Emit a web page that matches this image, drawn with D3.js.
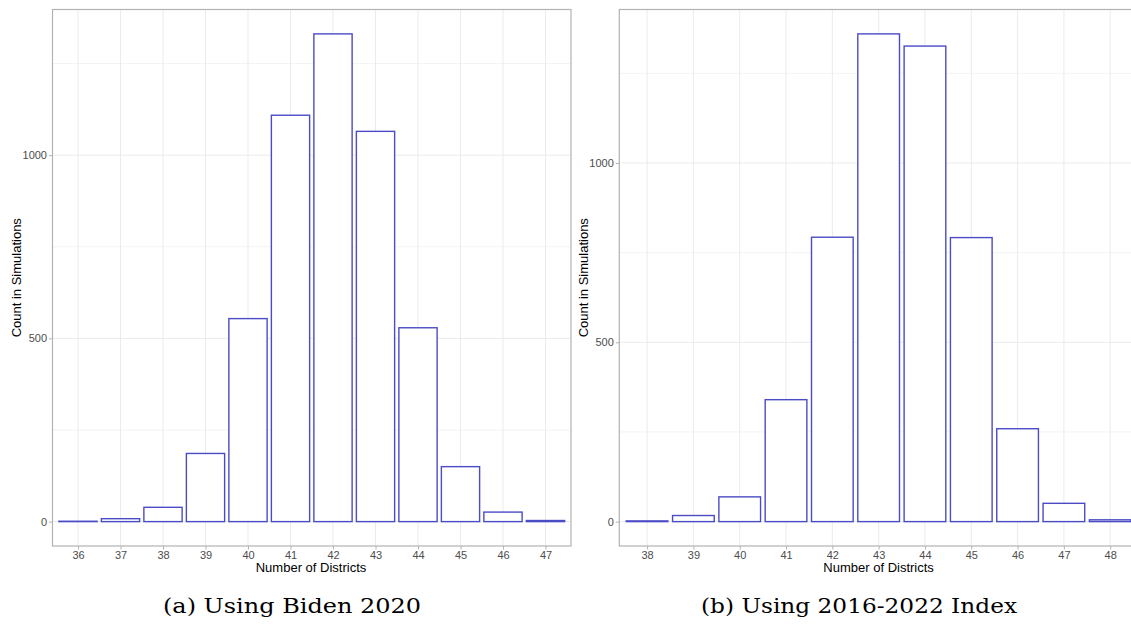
<!DOCTYPE html>
<html>
<head>
<meta charset="utf-8">
<script src="https://cdn.jsdelivr.net/npm/d3@7"></script>
<style>
  html, body { margin: 0; padding: 0; background: #fff; }
  svg { display: block; }
</style>
</head>
<body>
<svg id="chart" width="1131" height="624"></svg>
<script>
// Simulated district counts, one histogram per partisan measure
const leftCategories = ["36", "37", "38", "39", "40", "41", "42", "43", "44", "45", "46", "47"];
const leftCounts = [1, 8, 39, 186, 554, 1109, 1331, 1065, 529, 150, 26, 3];
const leftCaption = "(a) Using Biden 2020";

const rightCategories = ["38", "39", "40", "41", "42", "43", "44", "45", "46", "47", "48"];
const rightCounts = [2, 17, 69, 340, 793, 1360, 1326, 792, 259, 51, 5];
const rightCaption = "(b) Using 2016-2022 Index";

const majorTicks = [0, 500, 1000];
const minorTicks = [250, 750, 1250];
const xTitle = "Number of Districts";
const yTitle = "Count in Simulations";

const svg = d3.select("#chart");
const sans = "'Liberation Sans', Arial, sans-serif";
const serif = "'DejaVu Serif', 'Liberation Serif', serif";
const gridColor = "#ebebeb";
const borderColor = "#b3b3b3";
const textColor = "#4d4d4d";
const barColor = "#4b4bc6";

function drawPanel(cfg) {
  const top = 9.5, bottom = 546;
  const g = svg.append("g");

  const x = d3.scalePoint()
    .domain(cfg.categories)
    .range([cfg.x0, cfg.x1])
    .padding(0.6);
  const bw = x.step() * 0.9;

  const maxV = d3.max(cfg.values);
  const y = d3.scaleLinear()
    .domain([-0.05 * maxV, 1.05 * maxV])
    .range([bottom, top]);

  const clipId = "clip-" + cfg.id;
  svg.append("clipPath").attr("id", clipId)
    .append("rect")
    .attr("x", cfg.x0).attr("y", top)
    .attr("width", cfg.x1 - cfg.x0).attr("height", bottom - top);

  const plot = g.append("g").attr("clip-path", `url(#${clipId})`);

  // minor then major grid
  plot.selectAll("line.ymin").data(minorTicks).join("line")
    .attr("x1", cfg.x0).attr("x2", cfg.x1)
    .attr("y1", d => y(d)).attr("y2", d => y(d))
    .attr("stroke", "#f3f3f3").attr("stroke-width", 1);
  plot.selectAll("line.ymaj").data(majorTicks).join("line")
    .attr("x1", cfg.x0).attr("x2", cfg.x1)
    .attr("y1", d => y(d)).attr("y2", d => y(d))
    .attr("stroke", gridColor).attr("stroke-width", 1);
  plot.selectAll("line.xmaj").data(cfg.categories).join("line")
    .attr("x1", d => x(d)).attr("x2", d => x(d))
    .attr("y1", top).attr("y2", bottom)
    .attr("stroke", gridColor).attr("stroke-width", 1);

  // bars
  plot.selectAll("rect.bar").data(cfg.categories).join("rect")
    .attr("x", d => x(d) - bw / 2)
    .attr("width", bw)
    .attr("y", (d, i) => y(cfg.values[i]))
    .attr("height", (d, i) => Math.max(0, y(0) - y(cfg.values[i])))
    .attr("fill", "#fff")
    .attr("stroke", barColor)
    .attr("stroke-width", 1.4);

  // panel border
  g.append("rect")
    .attr("x", cfg.x0).attr("y", top)
    .attr("width", cfg.x1 - cfg.x0).attr("height", bottom - top)
    .attr("fill", "none").attr("stroke", borderColor).attr("stroke-width", 1.2);

  // y axis
  const yAxis = d3.axisLeft(y).tickValues(majorTicks).tickSize(3.5).tickPadding(2).tickFormat(d3.format("d"));
  const ya = g.append("g").attr("transform", `translate(${cfg.x0},0)`).call(yAxis);
  ya.select(".domain").remove();
  ya.selectAll(".tick line").attr("stroke", borderColor);
  ya.selectAll(".tick text").attr("fill", textColor)
    .style("font-family", sans).style("font-size", "11px");

  // x axis
  const xAxis = d3.axisBottom(x).tickSize(3.5).tickPadding(2);
  const xa = g.append("g").attr("transform", `translate(0,${bottom})`).call(xAxis);
  xa.select(".domain").remove();
  xa.selectAll(".tick line").attr("stroke", borderColor);
  xa.selectAll(".tick text").attr("fill", textColor)
    .style("font-family", sans).style("font-size", "11px");

  // axis titles
  g.append("text")
    .attr("x", cfg.xTitleX).attr("y", 572)
    .attr("text-anchor", "middle")
    .style("font-family", sans).style("font-size", "13px")
    .attr("fill", "#000")
    .text(xTitle);
  g.append("text")
    .attr("transform", `translate(${cfg.yTitleX},${(top + bottom) / 2}) rotate(-90)`)
    .attr("text-anchor", "middle")
    .style("font-family", sans).style("font-size", "13px")
    .attr("fill", "#000")
    .text(yTitle);

  // caption
  g.append("text")
    .attr("x", cfg.captionX).attr("y", 613)
    .attr("text-anchor", "middle")
    .attr("textLength", cfg.captionWidth)
    .attr("lengthAdjust", "spacingAndGlyphs")
    .style("font-family", serif).style("font-size", "21px")
    .attr("fill", "#000")
    .text(cfg.caption);
}

drawPanel({
  id: "a", categories: leftCategories, values: leftCounts, caption: leftCaption,
  x0: 52.5, x1: 571, xTitleX: 311, yTitleX: 21, captionX: 292, captionWidth: 258
});
drawPanel({
  id: "b", categories: rightCategories, values: rightCounts, caption: rightCaption,
  x0: 619.3, x1: 1138, xTitleX: 878.6, yTitleX: 588, captionX: 859, captionWidth: 316
});
</script>
</body>
</html>
